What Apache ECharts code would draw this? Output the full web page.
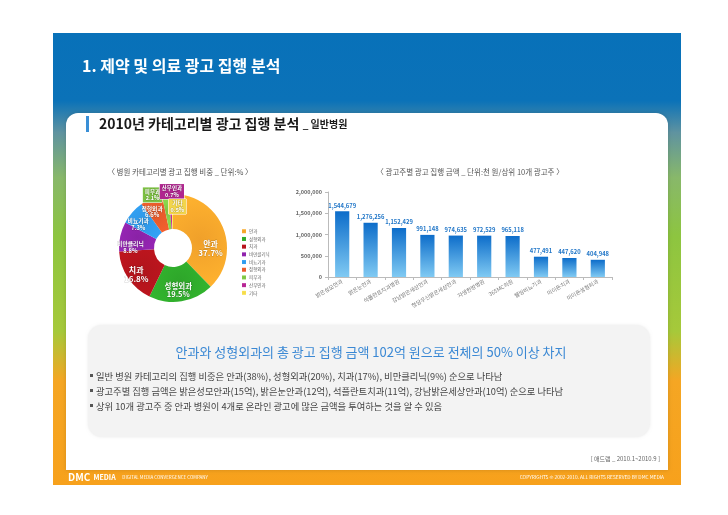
<!DOCTYPE html>
<html><head><meta charset="utf-8">
<script src="https://cdn.jsdelivr.net/npm/echarts@6/dist/echarts.min.js"></script>
<style>html,body{margin:0;padding:0;background:#fff}#c{width:728px;height:515px}</style>
</head><body><div id="c"></div>
<script>
// ---- data ----
const pieCategories = ['안과','성형외과','치과','비만클리닉','비뇨기과','정형외과','피부과','산부인과','기타'];
const pieValues = [37.7, 19.5, 16.8, 8.8, 7.3, 6.6, 2.1, 0.7, 0.5];
const pieColors = ['#f0a02a','#2ea52a','#b0141c','#8a22a6','#2f97e6','#e0582a','#7cc043','#b0268f','#f2d54c'];
const barCategories = ['밝은성모안과','밝은눈안과','석플란트치과병원','강남밝은세상안과','청담우신밝은세상안과','자생한방병원','365MC의원','웰빙비뇨기과','미이든치과','미이든성형외과'];
const barValues = [1544679, 1276256, 1152429, 991148, 974635, 972529, 965118, 477491, 447620, 404948];
const yTicks = [0, 500000, 1000000, 1500000, 2000000];
const bullets = [
  '일반 병원 카테고리의 집행 비중은 안과(38%), 성형외과(20%), 치과(17%), 비만클리닉(9%) 순으로 나타남',
  '광고주별 집행 금액은 밝은성모안과(15억), 밝은눈안과(12억), 석플란트치과(11억), 강남밝은세상안과(10억) 순으로 나타남',
  '상위 10개 광고주 중 안과 병원이 4개로 온라인 광고에 많은 금액을 투여하는 것을 알 수 있음'
];

const F = '"Noto Sans CJK KR","Noto Sans",sans-serif';
const fmt = v => v.toLocaleString('en-US');

// per-slice label styling (offsets relative to library's inside position)
const labelOffsets = [[1,15],[-1,3],[-4,4],[-4,8],[-5,2],[-5,0],[-15,-14],[1,-17],[5,-2]];
const labelSizes = [8, 7.5, 8, 5.8, 5.8, 5.8, 5.5, 5.5, 5.5];
const boxed = [false,false,false,false,false,false,true,true,true];

const pieData = pieCategories.map((n,i)=>({
  name:n, value:pieValues[i],
  itemStyle:{color:new echarts.graphic.RadialGradient(0.5,0.5,0.9,[{offset:0,color:pieColors[i]},{offset:1,color:echarts.color.lift(pieColors[i],-0.12)}],false)},
  label: boxed[i] ? {
    offset:labelOffsets[i], backgroundColor:pieColors[i], padding:[1,2], fontSize:labelSizes[i], lineHeight:6.5,
    borderColor:'#fff', borderWidth:0.5
  } : {offset:labelOffsets[i], fontSize:labelSizes[i], lineHeight:labelSizes[i]+1}
}));

const chart = echarts.init(document.getElementById('c'), null, {renderer:'canvas'});

const frameGrad = new echarts.graphic.LinearGradient(0,0,0,1,[
  {offset:0,color:'#0871b9'},{offset:0.15,color:'#0b72b8'},{offset:0.22,color:'#5f93a0'},
  {offset:0.32,color:'#88b86a'},{offset:0.45,color:'#8dc540'},{offset:0.66,color:'#a6c93a'},
  {offset:0.77,color:'#f5a623'},{offset:1,color:'#f7a11c'}
]);

const graphics = [
  {type:'rect', shape:{x:53,y:33,width:628,height:452}, style:{fill:frameGrad}, z:-10},
  {type:'rect', shape:{x:66,y:113,width:602,height:357,r:[12,12,0,0]}, style:{fill:'#fff', shadowBlur:4, shadowColor:'rgba(0,0,0,0.15)'}, z:-9},
  {type:'text', x:82, y:66, style:{text:'1. 제약 및 의료 광고 집행 분석', fill:'#fff', font:'bold 16px '+F, verticalAlign:'middle'}},
  {type:'rect', shape:{x:86,y:116,width:3,height:16}, style:{fill:'#3a8fd6'}},
  {type:'text', x:99, y:124, style:{text:'{a|2010년 카테고리별 광고 집행 분석} {b|_ 일반병원}', verticalAlign:'middle',
     rich:{a:{font:'bold 14px '+F, fill:'#1a1a1a'}, b:{font:'bold 10px '+F, fill:'#1a1a1a'}}}},
  {type:'text', x:180, y:172, style:{text:'〈 병원 카테고리별 광고 집행 비중 _ 단위:% 〉', fill:'#555', font:'7.5px '+F, align:'center', verticalAlign:'middle'}},
  {type:'text', x:470, y:172, style:{text:'〈 광고주별 광고 집행 금액 _ 단위:천 원/상위 10개 광고주 〉', fill:'#555', font:'7.5px '+F, align:'center', verticalAlign:'middle'}},
  {type:'rect', shape:{x:88,y:325,width:562,height:112,r:14}, style:{fill:'#f3f3f3', shadowBlur:3, shadowColor:'rgba(0,0,0,0.08)'}, z:-8},
  {type:'text', x:371, y:352, style:{text:'안과와 성형외과의 총 광고 집행 금액 102억 원으로 전체의 50% 이상 차지', fill:'#3a88d4', font:'13px '+F, align:'center', verticalAlign:'middle'}},
  {type:'text', x:660, y:459, style:{text:'[ 애드램 _ 2010.1~2010.9 ]', fill:'#666', font:'6px '+F, align:'right', verticalAlign:'middle'}},
  {type:'text', x:68, y:477, style:{text:'{a|DMC} {b|MEDIA}  {c|DIGITAL MEDIA CONVERGENCE COMPANY}', verticalAlign:'middle',
     rich:{a:{font:'bold 10px '+F, fill:'#fff'}, b:{font:'bold 7px '+F, fill:'#fff'}, c:{font:'4.5px '+F, fill:'#fff'}}}},
  {type:'text', x:664, y:477, style:{text:'COPYRIGHTS © 2002-2010. ALL RIGHTS RESERVED BY DMC MEDIA', fill:'#fff', font:'4.8px '+F, align:'right', verticalAlign:'middle'}}
];
bullets.forEach((t,i)=>{
  graphics.push({type:'rect', shape:{x:90,y:374+i*15,width:3,height:3}, style:{fill:'#555'}});
  graphics.push({type:'text', x:96, y:376+i*15, style:{text:t, fill:'#444', font:'9.3px '+F, verticalAlign:'middle'}});
});

chart.setOption({
  animation:false,
  textStyle:{fontFamily:F},
  graphic:graphics,
  legend:{
    data:pieCategories, orient:'vertical', left:237, top:224, itemWidth:4, itemHeight:4, itemGap:3.2,
    icon:'rect', textStyle:{fontSize:4.5, color:'#666', padding:[0,0,0,-2]}
  },
  grid:{left:328, right:116, top:192, bottom:238},
  xAxis:{
    type:'category', data:barCategories,
    axisLine:{lineStyle:{color:'#bbb'}}, axisTick:{show:true, lineStyle:{color:'#bbb'}, length:3},
    axisLabel:{rotate:30, fontSize:5.5, color:'#777', margin:4, interval:0}
  },
  yAxis:{
    type:'value', min:yTicks[0], max:yTicks[yTicks.length-1], interval:yTicks[1]-yTicks[0],
    axisLine:{show:true, lineStyle:{color:'#bbb'}}, axisTick:{show:true, length:3, lineStyle:{color:'#bbb'}},
    splitLine:{show:false},
    axisLabel:{fontSize:5.5, color:'#666', fontWeight:'bold', margin:6, formatter:v=>fmt(v)}
  },
  series:[
    {
      type:'pie', center:[173,248], radius:[19,54], startAngle:90, clockwise:true,
      avoidLabelOverlap:false, labelLayout:{hideOverlap:false},
      data:pieData, color:pieColors,
      label:{show:true, position:'inside', color:'#fff', fontSize:7, lineHeight:8, fontWeight:'bold',
        textBorderColor:'rgba(0,0,0,0.18)', textBorderWidth:0.8,
        formatter:p=>p.name+'\n'+p.value.toFixed(1)+'%'},
      labelLine:{show:false}, emphasis:{disabled:true},
      itemStyle:{borderColor:'#fff', borderWidth:0}
    },
    {
      type:'bar', data:barValues, barWidth:'50%',
      itemStyle:{color:new echarts.graphic.LinearGradient(0,0,0,1,[{offset:0,color:'#0d6dca'},{offset:1,color:'#80caf3'}])},
      label:{show:true, position:'top', fontSize:5.8, fontWeight:'bold', color:'#2277c8', distance:3, formatter:p=>fmt(p.value)}
    }
  ]
});
</script></body></html>
